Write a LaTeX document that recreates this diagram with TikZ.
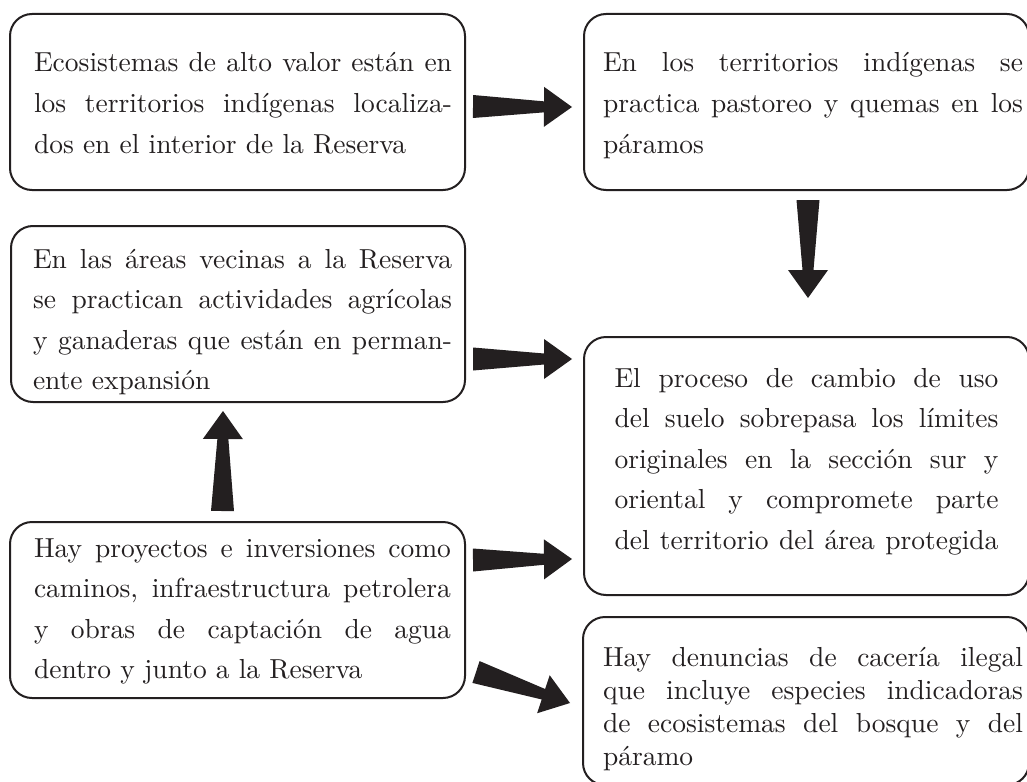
\documentclass[tikz,border=0pt]{standalone}
\usepackage{fontspec}
\usetikzlibrary{calc}
\newfontfamily\boxfont{lmroman10-regular.otf}
\definecolor{ink}{RGB}{35,31,32}
\newcommand\jl[1]{\makebox[\linewidth][s]{#1}\\}
\newcommand\jlast[1]{\makebox[\linewidth][s]{#1}}
% #1 shift*2, #2 box height, #3 text width, #4 top space, #5 lines
\newcommand\btext[5]{\hspace*{#1}\parbox[c][#2][t]{#3}{\vspace*{#4}\rule{0pt}{22pt}#5}}
\newcommand\fatarrow[2]{%
  \coordinate (fah) at ($(#2)!28pt!(#1)$);
  \fill[ink] ($(#1)!11.5pt!90:(#2)$) -- ($(fah)!5.5pt!90:(#2)$) -- ($(fah)!20pt!90:(#2)$) -- (#2)
     -- ($(fah)!20pt!-90:(#2)$) -- ($(fah)!5.5pt!-90:(#2)$) -- ($(#1)!11.5pt!-90:(#2)$) -- cycle;}
\tikzset{
  box/.style={draw=ink, line width=2pt, rounded corners=22pt, inner sep=0pt, text=ink,
    font=\boxfont\fontsize{27.5}{40.5}\selectfont},
  tightbox/.style={box, font=\boxfont\fontsize{27.5}{33}\selectfont}
}
\begin{document}
\begin{tikzpicture}[x=1pt,y=-1pt]
\useasboundingbox (0,0) rectangle (1027,781);
\clip (0,0) rectangle (1027,781);
\fill[white] (0,0) rectangle (1027,781);

\node[box, minimum width=455pt, minimum height=176pt] (A) at (237.5,102)
  {\btext{11pt}{176pt}{418pt}{36pt}{\jl{Ecosistemas de alto valor están en}\jl{los territorios indígenas localiza-}dos en el interior de la Reserva}};
\node[box, minimum width=445pt, minimum height=176pt] (B) at (806.5,102)
  {\btext{13pt}{176pt}{420pt}{36pt}{\jl{En los territorios indígenas se}\jl{practica pastoreo y quemas en los}páramos}};
\node[box, minimum width=454pt, minimum height=176pt] (C) at (238,314)
  {\btext{9pt}{176pt}{419pt}{20pt}{\jl{En las áreas vecinas a la Reserva}\jl{se practican actividades agrícolas}\jl{y ganaderas que están en perman-}ente expansión}};
\node[box, minimum width=445pt, minimum height=258pt] (D) at (806.5,466)
  {\btext{0pt}{258pt}{384pt}{28pt}{\jl{El proceso de cambio de uso}\jl{del suelo sobrepasa los límites}\jl{originales en la sección sur y}\jl{oriental y compromete parte}\jlast{del territorio del área protegida}}};
\node[box, minimum width=455pt, minimum height=176pt] (E) at (237.5,610)
  {\btext{10pt}{176pt}{417pt}{13pt}{\jl{Hay proyectos e inversiones como}\jl{caminos, infraestructura petrolera}\jl{y obras de captación de agua}dentro y junto a la Reserva}};
\node[tightbox, minimum width=446pt, minimum height=168pt] (F) at (806,701)
  {\btext{14pt}{168pt}{420pt}{27pt}{\jl{Hay denuncias de cacería ilegal}\jl{que incluye especies indicadoras}\jl{de ecosistemas del bosque y del}páramo}};

\coordinate (ab0) at ($(A.east)+(7,4.5)$);
\coordinate (ab1) at ($(B.west)+(-11,5)$);
\coordinate (bd0) at ($(B.south)+(1.5,9)$);
\coordinate (bd1) at ($(D.north)+(1.5,-38)$);
\coordinate (cd0) at ($(C.east)+(7,45)$);
\coordinate (cd1) at ($(D.west)+(-11,-107)$);
\coordinate (ed0) at ($(E.east)+(7,-50)$);
\coordinate (ed1) at ($(D.west)+(-11,93)$);
\coordinate (ef0) at ($(E.east)+(10,62)$);
\coordinate (ef1) at ($(F.west)+(-12,2)$);
\coordinate (ec0) at ($(E.north)+(-15,-10)$);
\coordinate (ec1) at ($(C.south)+(-15,8)$);

\fatarrow{ab0}{ab1}
\fatarrow{bd0}{bd1}
\fatarrow{cd0}{cd1}
\fatarrow{ed0}{ed1}
\fatarrow{ef0}{ef1}
\fatarrow{ec0}{ec1}
\end{tikzpicture}
\end{document}
